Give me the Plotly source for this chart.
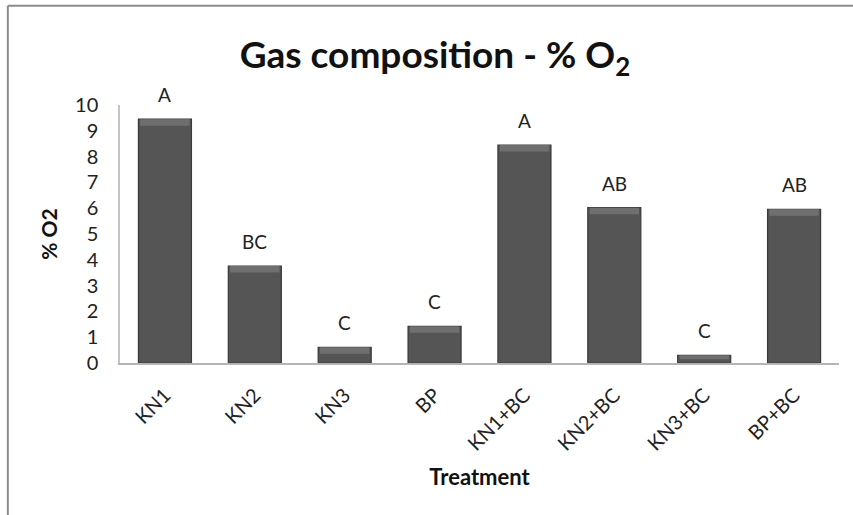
import plotly.graph_objects as go

# Treatment groups and mean O2 concentration (%)
treatments = ["KN1", "KN2", "KN3", "BP", "KN1+BC", "KN2+BC", "KN3+BC", "BP+BC"]
o2_percent = [9.45, 3.76, 0.61, 1.42, 8.45, 6.02, 0.30, 5.96]
letters = ["A", "BC", "C", "C", "A", "AB", "C", "AB"]
y_ticks = list(range(0, 11))

FONT = "Lato"

fig = go.Figure()

# main bars
fig.add_trace(go.Bar(
    x=treatments, y=o2_percent,
    marker=dict(color="#555555", line=dict(color="#3a3a3a", width=1.2)),
    hoverinfo="x+y",
    showlegend=False,
))

# lighter bevel strip on top of each bar
bevel = [min(0.25, v * 0.5) for v in o2_percent]
fig.add_trace(go.Bar(
    x=treatments, y=bevel, base=[v - b for v, b in zip(o2_percent, bevel)],
    width=0.55,
    marker=dict(color="#6f6f6f", line=dict(width=0)),
    hoverinfo="skip",
    showlegend=False,
))

# significance letters above bars
for t, v, s in zip(treatments, o2_percent, letters):
    fig.add_annotation(x=t, y=v, text=s, showarrow=False, yanchor="bottom",
                       yshift=11, font=dict(family=FONT, size=19, color="#222222"))

fig.update_layout(
    width=853, height=515, autosize=False,
    margin=dict(l=120, r=14, t=105, b=152),
    paper_bgcolor="white", plot_bgcolor="white",
    barmode="overlay", bargap=0.41,
    title=dict(text="<b>Gas composition - % O<sub>2</sub></b>",
               x=0.51, xanchor="center", y=0.893, yanchor="middle",
               font=dict(family=FONT, size=37, color="#111111")),
    font=dict(family=FONT, color="#222222"),
    # chart frame: top and left edges
    shapes=[
        dict(type="line", xref="paper", yref="paper", x0=-0.156, x1=1.05,
             y0=1.385, y1=1.385, line=dict(color="#8c8c8c", width=2)),
        dict(type="line", xref="paper", yref="paper", x0=-0.156, x1=-0.156,
             y0=1.385, y1=-0.7, line=dict(color="#8c8c8c", width=2)),
    ],
)

fig.update_xaxes(
    showline=True, linecolor="#b5b5b5", linewidth=1.5,
    showgrid=False, ticks="", tickangle=-45,
    tickfont=dict(family=FONT, size=20, color="#222222"),
    ticklabelstandoff=11,
    title=dict(text="<b>Treatment</b>", font=dict(family=FONT, size=22, color="#111111"),
               standoff=16),
)
fig.update_yaxes(
    range=[0, 10], tickvals=y_ticks, showline=True, linecolor="#c4c4c4",
    linewidth=1.5, showgrid=False, ticks="", zeroline=False,
    tickfont=dict(family=FONT, size=20, color="#222222"),
    ticklabelstandoff=16,
    title=dict(text="<b>% O2</b>", font=dict(family=FONT, size=21, color="#111111"),
               standoff=12),
)

fig.write_html("out.html")
